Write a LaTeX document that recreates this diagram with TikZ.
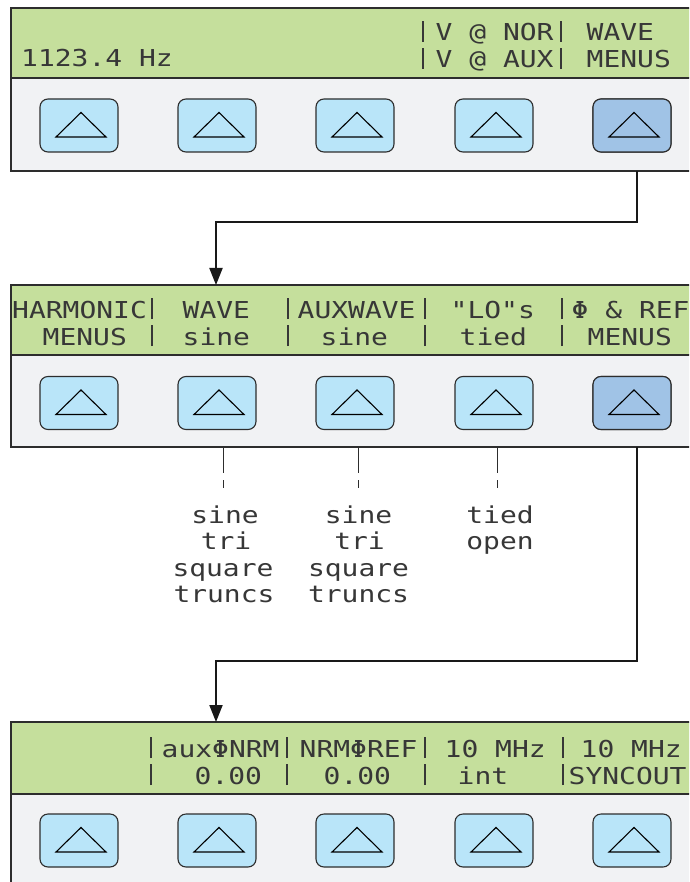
\documentclass[tikz,border=0pt]{standalone}
\usepackage{fontspec}
\usetikzlibrary{arrows.meta}
\newfontfamily\lcdfont[FakeStretch=1.2]{DejaVu Sans Mono}
\definecolor{lcdgreen}{RGB}{197,223,156}
\definecolor{panelgray}{RGB}{241,242,244}
\definecolor{btnblue}{RGB}{185,229,249}
\definecolor{btndark}{RGB}{160,195,230}
\definecolor{edgegray}{RGB}{45,45,45}
\definecolor{lcdtext}{RGB}{55,55,55}
\begin{document}
\begin{tikzpicture}[x=1pt,y=-1pt,
  lcd/.style={font=\lcdfont\fontsize{23.3}{28}\selectfont, text=lcdtext, inner sep=0pt, anchor=base west},
  lcdbar/.style={draw=lcdtext, line width=2pt},
  note/.style={lcd, anchor=base},
  key/.style={draw=edgegray, line width=1.1pt, rounded corners=8pt, fill=btnblue,
    minimum width=78pt, minimum height=53pt, inner sep=0pt},
  keyon/.style={key, fill=btndark},
  panelfill/.style={fill=panelgray},
  lcdfill/.style={fill=lcdgreen},
  paneledge/.style={draw=edgegray, line width=1.5pt},
  conn/.style={draw=black!90, line width=2pt},
  arrowconn/.style={conn, -{Triangle[width=13pt,length=17pt]}},
  tick/.style={draw=edgegray, line width=0.9pt},
  tri/.style={draw=black, line width=1.1pt, line join=miter}
]
\useasboundingbox (0,0) rectangle (689,882);
\clip (0,0) rectangle (689,882);

% ---------- panels ----------
% panel 1
\path[panelfill] (11,8) rectangle (700,171);
\path[lcdfill] (11,8) rectangle (700,78);
\draw[paneledge] (700,8) -- (11,8) -- (11,171) -- (700,171);
\draw[paneledge] (11,78) -- (700,78);
% panel 2
\path[panelfill] (11,285) rectangle (700,447);
\path[lcdfill] (11,285) rectangle (700,355);
\draw[paneledge] (700,285) -- (11,285) -- (11,447) -- (700,447);
\draw[paneledge] (11,355) -- (700,355);
% panel 3
\path[panelfill] (11,722) rectangle (700,900);
\path[lcdfill] (11,722) rectangle (700,794);
\draw[paneledge] (700,722) -- (11,722) -- (11,900);
\draw[paneledge] (11,794) -- (700,794);

% ---------- keys ----------
\foreach \r/\y in {1/125.5, 2/403, 3/840.5}{
  \foreach \c/\x in {1/79, 2/217, 3/355, 4/494, 5/632}{
    \node[key] (b\r\c) at (\x,\y) {};
  }
}
\node[keyon] (b15) at (632,125.5) {};
\node[keyon] (b25) at (632,403) {};
\foreach \r in {1,2,3}{
  \foreach \c in {1,...,5}{
    \draw[tri] ([shift={(2,-13)}]b\r\c.center) -- ([shift={(27,11.5)}]b\r\c.center)
      -- ([shift={(-23,11.5)}]b\r\c.center) -- cycle;
  }
}

% ---------- LCD separator bars ----------
\foreach \x in {423,561}{
  \draw[lcdbar] (\x,42) -- (\x,21);
  \draw[lcdbar] (\x,69) -- (\x,48);
}
\foreach \x in {152,288,425,562}{
  \draw[lcdbar] (\x,319) -- (\x,298);
  \draw[lcdbar] (\x,346) -- (\x,325);
}
\foreach \x in {151,286.5,425,563}{
  \draw[lcdbar] (\x,758) -- (\x,737);
  \draw[lcdbar] (\x,785) -- (\x,764);
}

% ---------- LCD texts ----------
% panel 1
\node[lcd] (t1a) at (21,67) {1123.4 Hz};
\node[lcd] (t1b) at (435.5,41) {V @ NOR};
\node[lcd] (t1c) at (435.5,68) {V @ AUX};
\node[lcd] (t1d) at (586.5,41) {WAVE};
\node[lcd] (t1e) at (586.5,68) {MENUS};
% panel 2
\node[lcd] (t2a) at (12,318) {HARMONIC};
\node[lcd] (t2b) at (42.5,345) {MENUS};
\node[lcd] (t2c) at (182.5,318) {WAVE};
\node[lcd] (t2d) at (182.5,345) {sine};
\node[lcd] (t2e) at (297.5,318) {AUXWAVE};
\node[lcd] (t2f) at (320.5,345) {sine};
\node[lcd] (t2g) at (450.5,318) {"LO"s};
\node[lcd] (t2h) at (459.5,345) {tied};
\node[lcd] (t2i) at (571.5,318) {Φ \& REF};
\node[lcd] (t2j) at (587.5,345) {MENUS};
% panel 3
\node[lcd] (t3a) at (161.5,757) {auxΦNRM};
\node[lcd] (t3b) at (194.5,784) {0.00};
\node[lcd] (t3c) at (299.5,757) {NRMΦREF};
\node[lcd] (t3d) at (323.5,784) {0.00};
\node[lcd] (t3e) at (444.5,757) {10 MHz};
\node[lcd] (t3f) at (457.5,784) {int};
\node[lcd] (t3g) at (580.5,757) {10 MHz};
\node[lcd] (t3h) at (568.5,784) {SYNCOUT};

% ---------- option lists ----------
\node[note] (o1a) at (225,523) {sine};
\node[note] (o1b) at (226,549.5) {tri};
\node[note] (o1c) at (223,576) {square};
\node[note] (o1d) at (224,602.5) {truncs};
\node[note] (o2a) at (358.5,523) {sine};
\node[note] (o2b) at (359.5,549.5) {tri};
\node[note] (o2c) at (358.5,576) {square};
\node[note] (o2d) at (358.5,602.5) {truncs};
\node[note] (o3a) at (500,523) {tied};
\node[note] (o3b) at (500,549.5) {open};

\foreach \n/\x in {1/223,2/358.5,3/497}{
  \coordinate (dt\n) at (\x,447);
  \coordinate (dm\n) at (\x,473);
  \coordinate (dn\n) at (\x,480);
  \coordinate (db\n) at (\x,488);
  \draw[tick] (dt\n) -- (dm\n);
  \draw[tick] (dn\n) -- (db\n);
}

% ---------- connectors ----------
\coordinate (s1) at (637,171);
\coordinate (k1) at (637,222);
\coordinate (e1) at (216,285);
\draw[arrowconn] (s1) -- (k1) -| (e1);
\coordinate (s2) at (637,447);
\coordinate (k2) at (637,661);
\coordinate (e2) at (216,722);
\draw[arrowconn] (s2) -- (k2) -| (e2);
\end{tikzpicture}
\end{document}
